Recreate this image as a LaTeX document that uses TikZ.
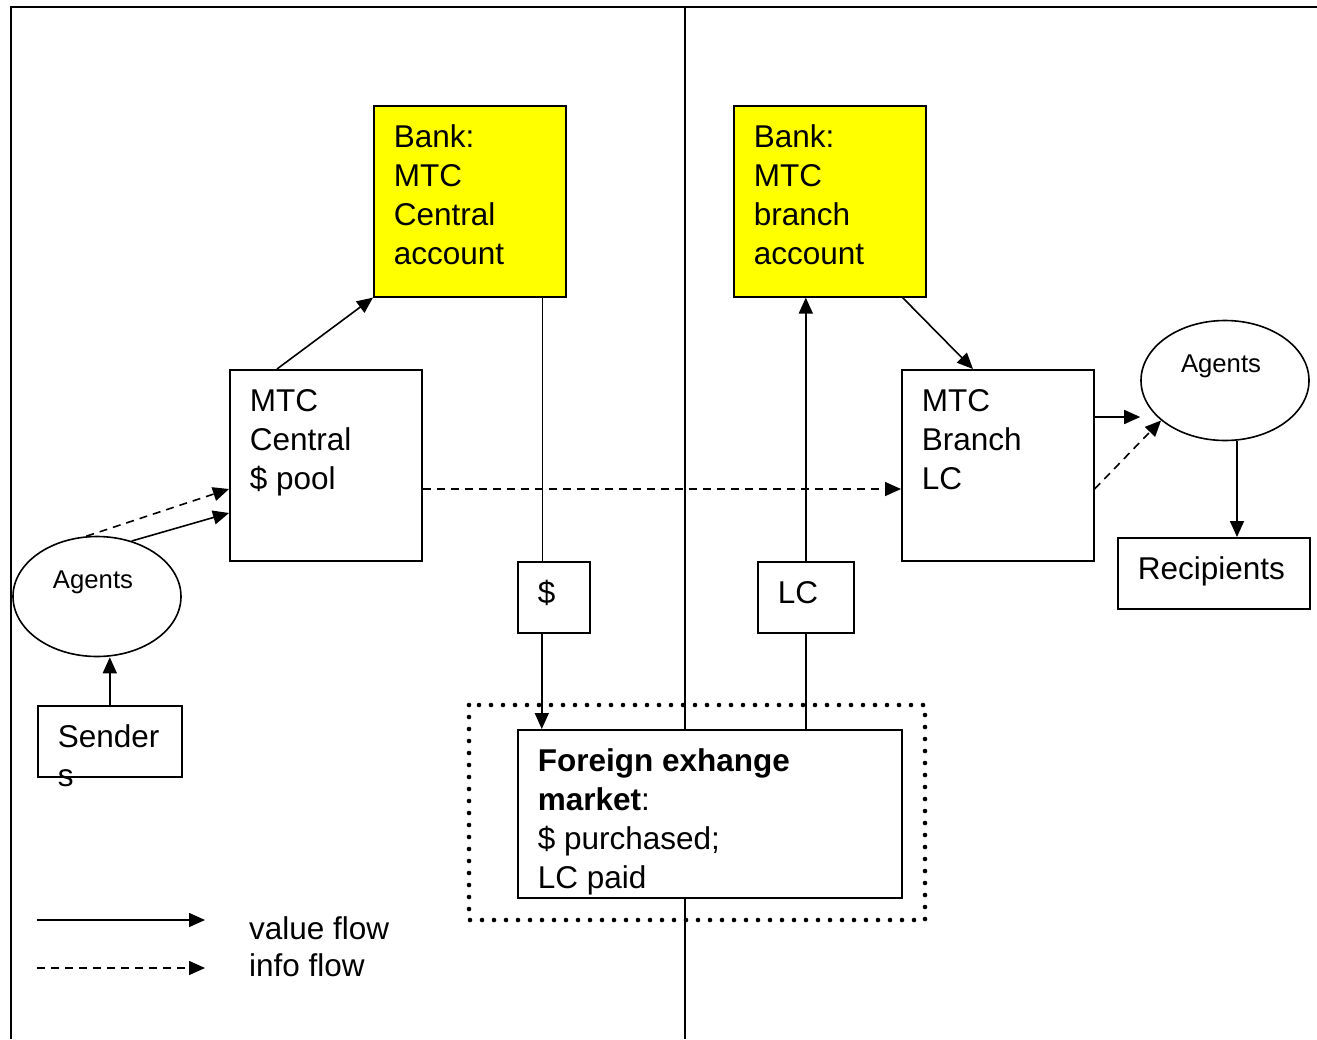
\documentclass[tikz,border=0pt]{standalone}
\usepackage{fontspec}
\setmainfont{Liberation Sans}
\usepackage{tikz}
\usetikzlibrary{shapes.geometric, arrows.meta, calc}
\definecolor{myyellow}{RGB}{255,255,0}
\definecolor{mydark}{RGB}{0,0,0}
% top-aligned text inside a box: width, height, text
\newcommand{\btxt}[3]{\parbox[t][#2][t]{#1}{\strut#3}}
\tikzset{
  block/.style={rectangle,draw=mydark,fill=white,anchor=north west,inner xsep=20pt,
    inner ysep=14pt,line width=1.6pt,font={\fontsize{31.5}{39}\selectfont}},
  yblock/.style={block,fill=myyellow},
  agent/.style={ellipse,draw=mydark,fill=white,minimum width=168pt,minimum height=120pt,
    inner sep=0pt,line width=1.6pt,font={\fontsize{25.7}{30}\selectfont}},
  arrow/.style={-{Triangle[length=16pt,width=14pt]},line width=1.6pt,color=mydark},
  infoarrow/.style={arrow,dash pattern=on 8pt off 6pt},
  line/.style={line width=1.6pt,color=mydark},
  frame/.style={line width=2.6pt,color=mydark},
  dotframe/.style={line width=4.6pt,line cap=round,dash pattern=on 0pt off 12pt,color=mydark},
  lgd/.style={inner sep=0pt,anchor=base west,font={\fontsize{31.5}{39}\selectfont}}
}

\begin{document}
\begin{tikzpicture}[x=1pt,y=-1pt]
  \useasboundingbox (0,0) rectangle (1317,1039);
  \draw[frame] (11,1039) -- (11,7) -- (1317,7);
  \draw[line] (685,7) -- (685,1039);
  \draw[dotframe] (469,705) rectangle (925,920);

  \node[yblock] (bankc) at (373,105) {\btxt{152pt}{163pt}{Bank:\\MTC\\Central\\account}};
  \node[yblock] (bankb) at (733,105) {\btxt{152pt}{163pt}{Bank:\\MTC\\branch\\account}};
  \node[block]  (pool)  at (229,369) {\btxt{152pt}{163pt}{MTC\\Central\\\$ pool}};
  \node[block]  (brlc)  at (901,369) {\btxt{152pt}{163pt}{MTC\\Branch\\LC}};
  \node[block]  (usd)   at (517,561) {\btxt{32pt}{43pt}{\$}};
  \node[block]  (lc)    at (757,561) {\btxt{56pt}{43pt}{LC}};
  \node[block]  (recip) at (1117,537) {\btxt{152pt}{43pt}{Recipients}};
  \node[block]  (send)  at (37,705)  {\btxt{104pt}{43pt}{Sender\\s}};
  \node[block]  (fx)    at (517,729) {\btxt{344pt}{140pt}{\textbf{Foreign exhange}\\
    \textbf{market}:\\\$ purchased;\\LC paid}};
  \node[agent]  (agl)   at (97,596.5)  {\raisebox{8pt}[0pt][0pt]{Agents\hspace*{8pt}}};
  \node[agent]  (agr)   at (1225,380.5) {\raisebox{8pt}[0pt][0pt]{Agents\hspace*{8pt}}};

  % value side
  \coordinate (cdol)  at ([xshift=-24pt]bankc.south east);
  \coordinate (cdol2) at ([xshift=-12pt]usd.south);
  \coordinate (cbr)   at ([yshift=-48pt]brlc.north east);
  \coordinate (crec)  at ([xshift=12pt]agr.south);
  \draw[arrow] ([xshift=48pt]pool.north west) -- (bankc.south west);
  \draw[line]  (cdol) -- (cdol |- usd.north);
  \draw[arrow] (cdol2) -- (cdol2 |- fx.north);
  \draw[line]  (lc.south) -- (lc.south |- fx.north);
  \draw[arrow] (lc.north) -- (lc.north |- bankb.south);
  \draw[arrow] ([xshift=-24pt]bankb.south east) -- ([xshift=72pt]brlc.north west);
  \draw[arrow] (cbr) -- (cbr -| agr.west);
  \draw[arrow] (crec) -- (crec |- recip.north);
  \draw[arrow] (send.north) -- (send.north |- agl.south);
  \draw[arrow] (agl.58) -- ([yshift=-144pt]pool.north west);
  % info side
  \draw[infoarrow] (agl.100) -- ([yshift=-120pt]pool.north west);
  \draw[infoarrow] ([yshift=-120pt]pool.north east) -- ([yshift=-120pt]brlc.north west);
  \draw[infoarrow] ([yshift=-120pt]brlc.north east) -- (agr.212);

  % legend
  \coordinate (v1) at (37,920);
  \coordinate (v2) at (205,920);
  \coordinate (i1) at (37,968);
  \coordinate (i2) at (205,968);
  \draw[arrow] (v1) -- (v2);
  \draw[infoarrow] (i1) -- (i2);
  \node[lgd] (vlab) at (249,939) {value flow};
  \node[lgd] (ilab) at (249,976) {info flow};
\end{tikzpicture}
\end{document}
